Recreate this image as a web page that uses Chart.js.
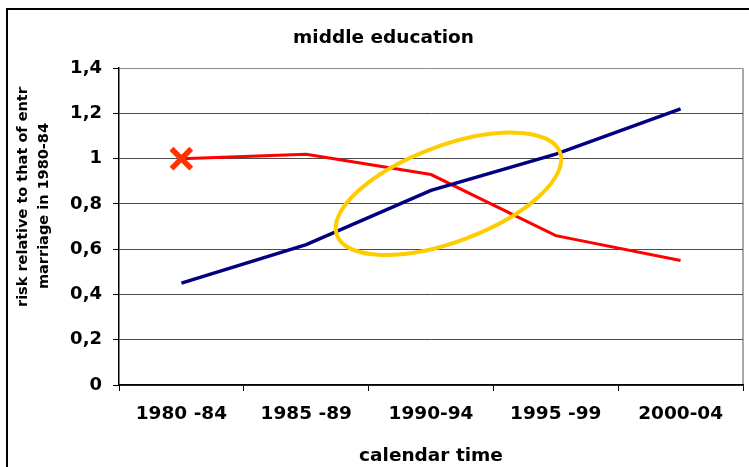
<!DOCTYPE html>
<html>
<head>
<meta charset="utf-8">
<script src="https://cdn.jsdelivr.net/npm/chart.js@4.4.1/dist/chart.umd.min.js"></script>
<style>
  html, body { margin: 0; padding: 0; background: #fff; }
</style>
</head>
<body>
<canvas id="chart" width="749" height="467"></canvas>
<script>
// data
const periods = ["1980 -84", "1985 -89", "1990-94", "1995 -99", "2000-04"];
const blueSeries = [0.45, 0.62, 0.86, 1.02, 1.22];
const redSeries = [1.0, 1.02, 0.93, 0.66, 0.55];
const yTicks = [0, 0.2, 0.4, 0.6, 0.8, 1, 1.2, 1.4];

const chartTitle = "middle education";
const xTitle = "calendar time";
const yTitleLines = ["risk relative to that of entry", "marriage in 1980-84"];

// highlight ellipse, centred on a category / value position
const ringCenter = { index: 2.14, value: 0.845 };

const FONT = "'DejaVu Sans', Verdana, sans-serif";
Chart.defaults.font.family = FONT;
Chart.defaults.color = "#000";

const frame = {
  id: "frame",
  beforeDraw(chart) {
    const { ctx, chartArea } = chart;
    ctx.save();
    ctx.fillStyle = "#fff";
    ctx.fillRect(0, 0, chart.width, chart.height);
    ctx.strokeStyle = "#000";
    ctx.lineWidth = 2;
    ctx.strokeRect(7, 9, 900, 900);
    // plot area border (right side)
    ctx.strokeStyle = "#8c8c8c";
    ctx.lineWidth = 1.5;
    ctx.beginPath();
    ctx.moveTo(chartArea.right, chartArea.top);
    ctx.lineTo(chartArea.right, chartArea.bottom);
    ctx.stroke();
    ctx.restore();
  },
  afterDraw(chart) {
    const { ctx } = chart;
    // y axis title, first line is cut off in the original
    ctx.save();
    ctx.font = "bold 14.5px " + FONT;
    ctx.fillStyle = "#000";
    ctx.textBaseline = "middle";
    ctx.textAlign = "left";
    ctx.beginPath();
    ctx.rect(0, 86, 110, 300);
    ctx.clip();
    ctx.translate(23, 307);
    ctx.rotate(-Math.PI / 2);
    ctx.fillText(yTitleLines[0], 0, 0);
    ctx.restore();

    ctx.save();
    ctx.font = "bold 14.5px " + FONT;
    ctx.fillStyle = "#000";
    ctx.textBaseline = "middle";
    ctx.textAlign = "center";
    ctx.translate(44, 206);
    ctx.rotate(-Math.PI / 2);
    ctx.fillText(yTitleLines[1], 0, 0);
    ctx.restore();
  },
  afterDatasetsDraw(chart) {
    const { ctx, scales } = chart;
    const cx = scales.x.getPixelForValue(ringCenter.index);
    const cy = scales.y.getPixelForValue(ringCenter.value);
    ctx.save();
    ctx.strokeStyle = "#FFCC00";
    ctx.lineWidth = 4;
    ctx.beginPath();
    ctx.ellipse(cx, cy, 119, 48, -20.4 * Math.PI / 180, 0, Math.PI * 2);
    ctx.stroke();
    ctx.restore();
  }
};

new Chart(document.getElementById("chart"), {
  type: "line",
  data: {
    labels: periods,
    datasets: [
      {
        label: "blue",
        data: blueSeries,
        borderColor: "#000080",
        borderWidth: 3.5,
        pointRadius: 0,
        tension: 0,
      },
      {
        label: "red",
        data: redSeries,
        borderColor: "#FF0000",
        borderWidth: 3,
        pointStyle: ["crossRot", "circle", "circle", "circle", "circle"],
        pointRadius: [14, 0, 0, 0, 0],
        pointBorderWidth: 5.5,
        pointBorderColor: "#FF3300",
        tension: 0,
      },
    ],
  },
  options: {
    responsive: false,
    animation: false,
    devicePixelRatio: 1,
    layout: { autoPadding: false, padding: { left: 24, right: 6, top: 0, bottom: 0 } },
    plugins: {
      legend: { display: false },
      tooltip: { enabled: false },
      title: {
        display: true,
        text: chartTitle,
        font: { size: 18.5, weight: "bold" },
        color: "#000",
        padding: { top: 27, bottom: 19 },
      },
    },
    scales: {
      x: {
        offset: true,
        afterFit: (scale) => {
          scale.height = 82;
          scale.paddingLeft = 0;
          scale.paddingRight = 0;
        },
        grid: {
          offset: true,
          drawOnChartArea: false,
          tickLength: 6,
          tickColor: "#000",
        },
        border: { color: "#000", width: 1.5 },
        ticks: {
          font: { size: 18.5, weight: "bold" },
          color: "#000",
          padding: 12,
          maxRotation: 0,
        },
        title: {
          display: true,
          text: xTitle,
          font: { size: 18.5, weight: "bold" },
          color: "#000",
          padding: { top: 0, bottom: 0 },
        },
      },
      y: {
        min: 0,
        max: 1.4,
        afterFit: (scale) => { scale.width = 95; },
        afterBuildTicks: (scale) => {
          scale.ticks = yTicks.map((v) => ({ value: v }));
        },
        grid: {
          color: (c) => (c.tick && c.tick.value === 1.4 ? "#8c8c8c" : "#4a4a4a"),
          lineWidth: 1,
          tickLength: 6,
          tickColor: "#000",
        },
        border: { color: "#000", width: 1.5 },
        ticks: {
          font: { size: 18, weight: "bold" },
          color: "#000",
          padding: 11,
          callback: (v) => String(Number(v.toFixed(1))).replace(".", ","),
        },
      },
    },
  },
  plugins: [frame],
});
</script>
</body>
</html>
